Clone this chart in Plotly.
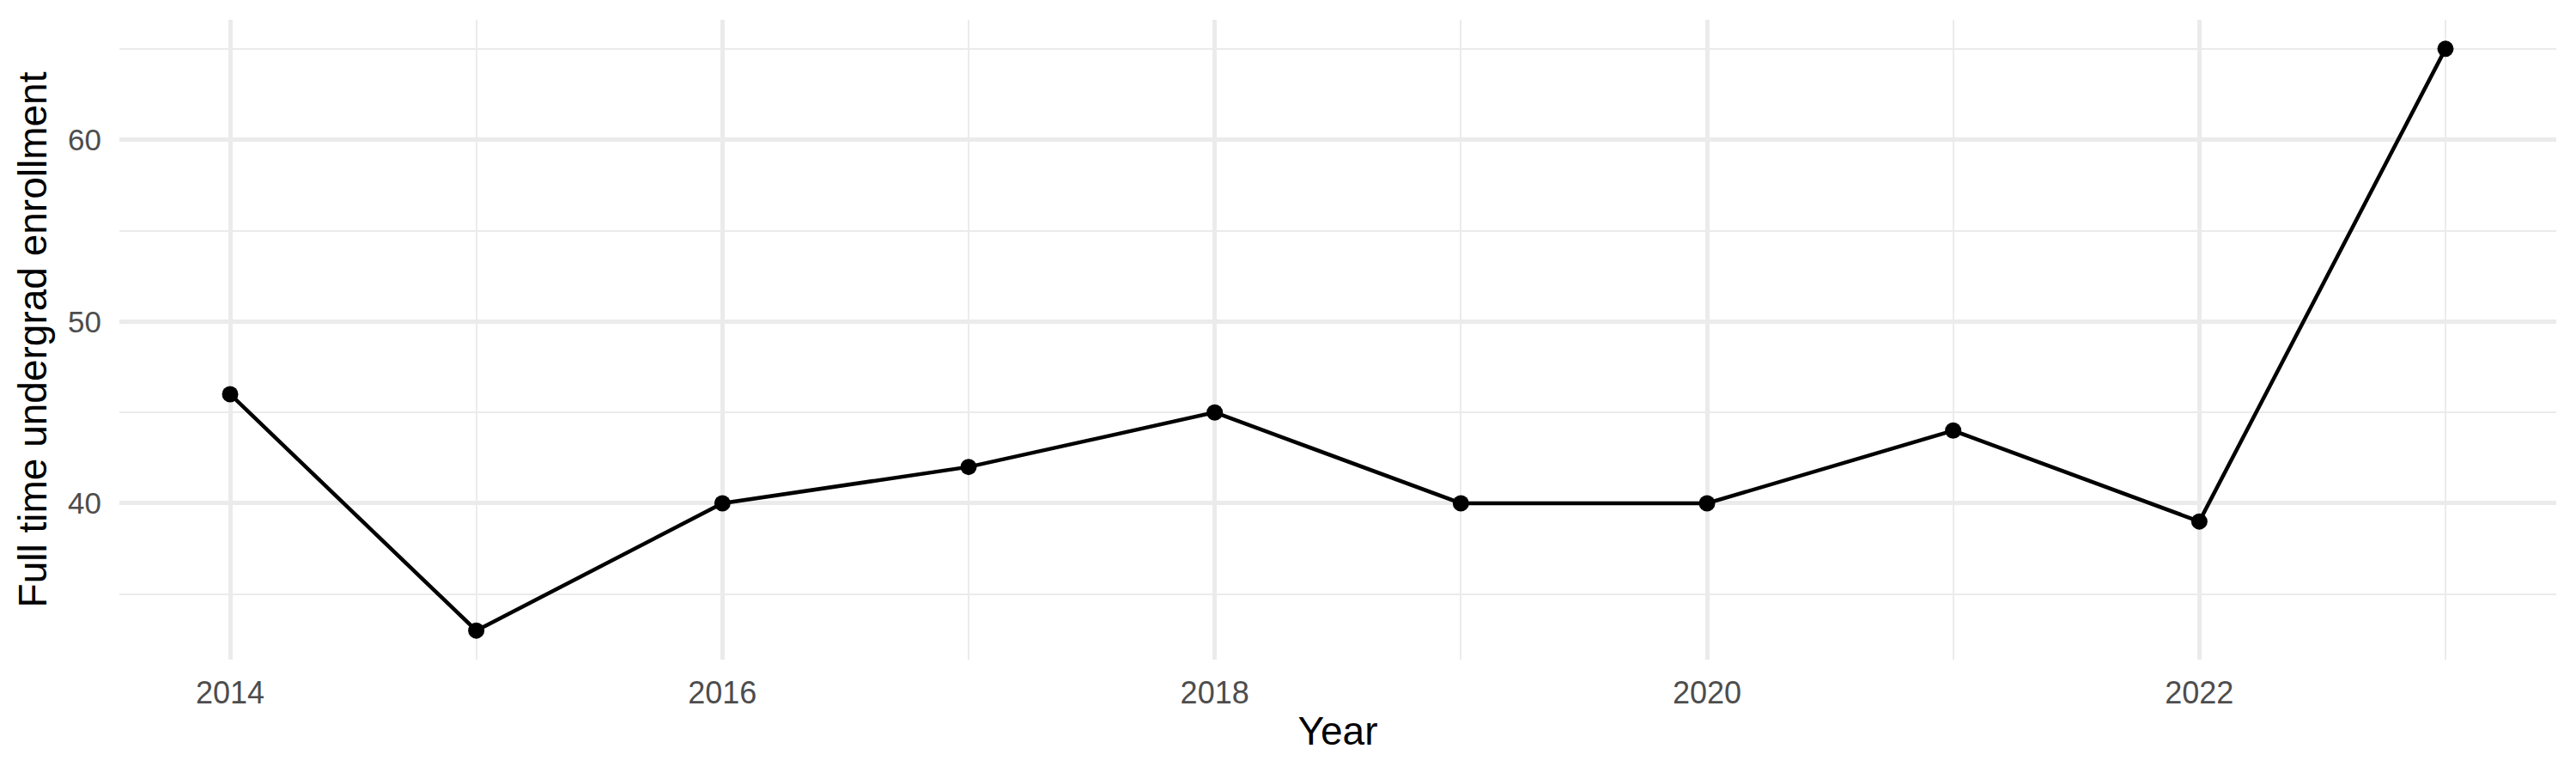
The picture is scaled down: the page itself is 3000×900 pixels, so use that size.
import plotly.graph_objects as go

years = [2014, 2015, 2016, 2017, 2018, 2019, 2020, 2021, 2022, 2023]
enrollment = [46, 33, 40, 42, 45, 40, 40, 44, 39, 65]

fig = go.Figure()
fig.add_trace(go.Scatter(x=years, y=enrollment, mode="lines+markers",
                         line=dict(color="black", width=4.5),
                         marker=dict(color="black", size=19),
                         showlegend=False))

grid = "#EBEBEB"
# page body adds an 8px margin, so the figure is 8px smaller than the window
fig.update_layout(
    width=2992, height=892,
    plot_bgcolor="white", paper_bgcolor="white",
    margin=dict(l=131, r=23, t=15, b=132),
    font=dict(family="Liberation Sans, Arial, sans-serif"),
)
fig.update_xaxes(range=[2013.55, 2023.45], tickmode="linear", tick0=2014, dtick=2,
                 showgrid=True, gridcolor=grid, gridwidth=4.5, zeroline=False,
                 minor=dict(tickmode="linear", tick0=2015, dtick=2, showgrid=True,
                            gridcolor=grid, gridwidth=2.3),
                 tickfont=dict(size=36, color="#4D4D4D"), ticks="", ticklabelstandoff=14,
                 title=dict(text="Year", font=dict(size=46, color="black"), standoff=8))
fig.update_yaxes(range=[31.4, 66.6], tickmode="linear", tick0=40, dtick=10,
                 showgrid=True, gridcolor=grid, gridwidth=4.5, zeroline=False,
                 minor=dict(tickmode="linear", tick0=35, dtick=10, showgrid=True,
                            gridcolor=grid, gridwidth=2.3),
                 tickfont=dict(size=35, color="#4D4D4D"), ticks="", ticklabelstandoff=20,
                 title=dict(text="Full time undergrad enrollment",
                            font=dict(size=46, color="black"), standoff=9))

fig.write_html("out.html")
